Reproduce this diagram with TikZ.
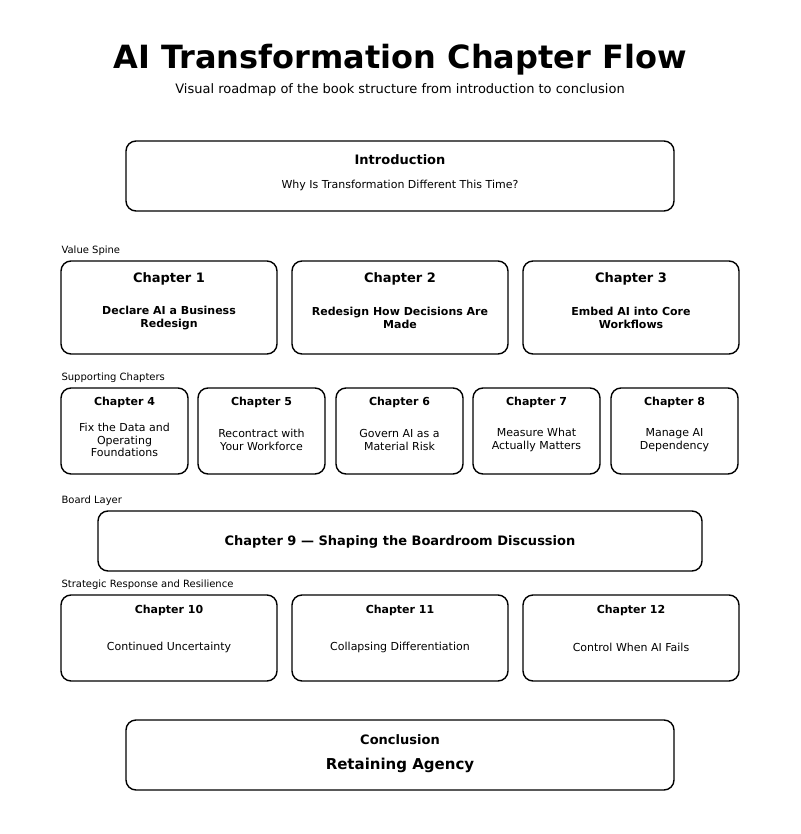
\documentclass[tikz,border=0pt]{standalone}
\usepackage{fontspec}
\setmainfont{DejaVu Sans}
\usetikzlibrary{
  positioning,  % relative placement
}
\tikzset{
  x=1pt, y=-1pt,
  semithick,
  my box/.style={
    draw,
    line width=1.4pt,
    rounded corners=10pt,
    rectangle
  },
  my head/.style={font=\bfseries\fontsize{13}{15}\selectfont},
  my small head/.style={font=\bfseries\fontsize{11}{13}\selectfont},
  my text/.style={font=\fontsize{11}{12.5}\selectfont,align=center},
  my bold text/.style={font=\bfseries\fontsize{11}{12.5}\selectfont,align=center},
  my layer/.style={anchor=west,font=\fontsize{10}{12}\selectfont}
}
\begin{document}
\begin{tikzpicture}
\useasboundingbox (0,0) rectangle (800,834);
% title
\node (title) at (400,60) {\bfseries\fontsize{32}{38}\selectfont AI Transformation Chapter Flow};
\node (sub)   at (400,90) {\fontsize{13}{15}\selectfont Visual roadmap of the book structure from introduction to conclusion};
% introduction
\draw[my box] (126,141) rectangle (674,211);
\node[my head] (intro)  at (400,160) {Introduction};
\node[my text] (introt) at (400,185) {Why Is Transformation Different This Time?};
% value spine
\node[my layer] (l1) at (58,251) {Value Spine};
\foreach \xa/\xb/\n/\t in {61/277/1/{Declare AI a Business\\Redesign},
                           292/508/2/{Redesign How Decisions Are\\Made},
                           523/739/3/{Embed AI into Core\\Workflows}}{
  \draw[my box] (\xa,261) rectangle (\xb,354);
  \node[my head] (c\n) at ({(\xa+\xb)/2},279) {Chapter \n};
  \node[my bold text] (c\n t) at ({(\xa+\xb)/2},318) {\t};
}
% supporting chapters
\node[my layer] (l2) at (58,378) {Supporting Chapters};
\foreach \xa/\xb/\n/\t in {61/188/4/{Fix the Data and\\Operating\\Foundations},
                           198/325/5/{Recontract with\\Your Workforce},
                           336/463/6/{Govern AI as a\\Material Risk},
                           473/600/7/{Measure What\\Actually Matters},
                           611/738/8/{Manage AI\\Dependency}}{
  \draw[my box] (\xa,388) rectangle (\xb,474);
  \node[my small head] (c\n) at ({(\xa+\xb)/2},402) {Chapter \n};
  \node[my text] (c\n t) at ({(\xa+\xb)/2},440) {\t};
}
% board layer
\node[my layer] (l3) at (58,501) {Board Layer};
\draw[my box] (98,511) rectangle (702,571);
\node[my head] (c9) at (400,542) {Chapter 9 — Shaping the Boardroom Discussion};
% strategic response
\node[my layer] (l4) at (58,585) {Strategic Response and Resilience};
\foreach \xa/\xb/\n/\t in {61/277/10/{Continued Uncertainty},
                           292/508/11/{Collapsing Differentiation},
                           523/739/12/{Control When AI Fails}}{
  \draw[my box] (\xa,595) rectangle (\xb,681);
  \node[my small head] (c\n) at ({(\xa+\xb)/2},610) {Chapter \n};
  \node[my text] (c\n t) at ({(\xa+\xb)/2},647) {\t};
}
% conclusion
\draw[my box] (126,720) rectangle (674,790);
\node[my head] (concl)  at (400,740) {Conclusion};
\node[font=\bfseries\fontsize{15}{18}\selectfont] (conclt) at (400,765) {Retaining Agency};
\end{tikzpicture}
\end{document}
